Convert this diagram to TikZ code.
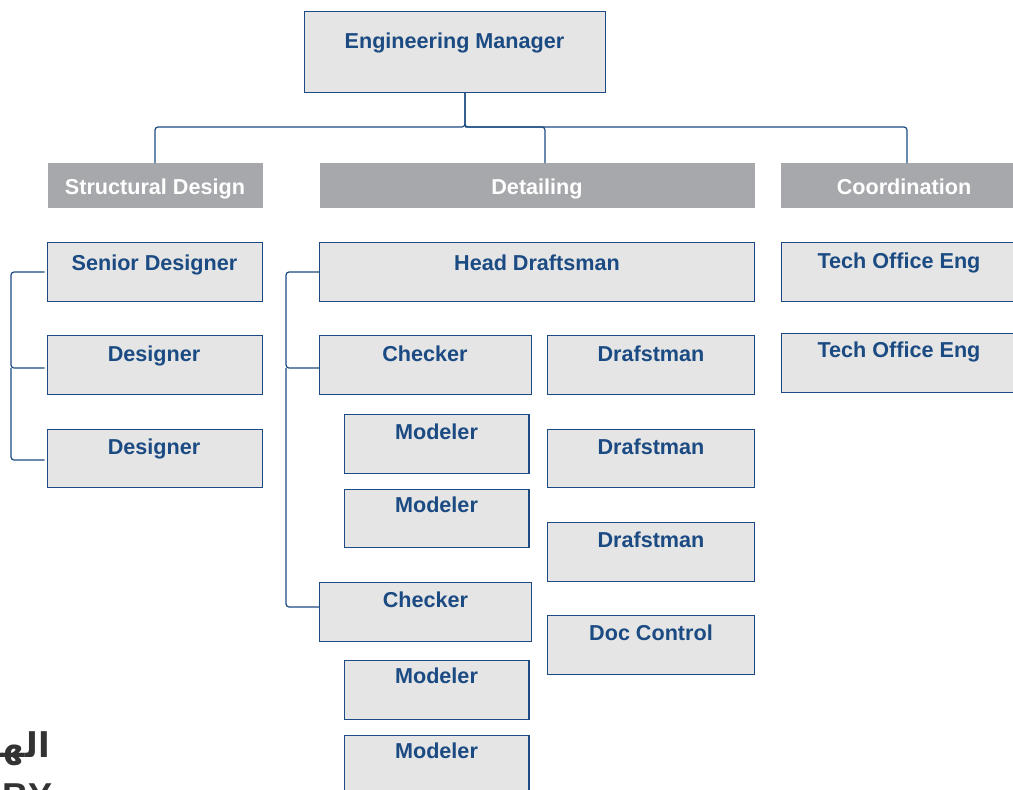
\documentclass[tikz,border=0pt]{standalone}
\usepackage{fontspec}
\setmainfont{Liberation Sans}
\newfontfamily\arabicfont[Script=Arabic,BoldFont={DejaVu Sans Bold}]{DejaVu Sans}
\TeXXeTstate=1
\definecolor{navy}{HTML}{1B4B82}
\definecolor{boxfill}{HTML}{E5E5E5}
\definecolor{headgrey}{HTML}{A7A8AB}
\definecolor{inkdark}{HTML}{333333}
\tikzset{
  box/.style={draw=navy,fill=boxfill,line width=1.2pt,inner sep=0pt},
  head/.style={fill=headgrey,inner sep=0pt},
  boxtext/.style={text=navy,font=\fontsize{21.6}{24}\selectfont\bfseries,anchor=base,inner sep=0pt},
  headtext/.style={text=white,font=\fontsize{21.6}{24}\selectfont\bfseries,anchor=base,inner sep=0pt},
  link/.style={draw=navy,line width=1.2pt,rounded corners=3pt}
}
% name, x1, y1, x2, y2, text x, text baseline y, text
\newcommand{\orgbox}[8]{%
  \node[box,anchor=north west,minimum width=#4pt-#2pt-0.6pt,minimum height=#5pt-#3pt-0.6pt] (#1) at (#2,#3) {};
  \node[boxtext] (#1t) at (#6,#7) {#8};}
\newcommand{\orghead}[8]{%
  \node[head,anchor=north west,minimum width=#4pt-#2pt,minimum height=#5pt-#3pt] (#1) at (#2,#3) {};
  \node[headtext] (#1t) at (#6,#7) {#8};}
\begin{document}
\begin{tikzpicture}[x=1pt,y=-1pt]
\path[use as bounding box,clip] (0,0) rectangle (1013,790);
\fill[white] (0,0) rectangle (1013,790);

\orgbox{mgr}{303.5}{10.5}{605.5}{92.5}{454.5}{48}{Engineering Manager}

\orghead{sd}{48}{163}{263}{208}{155}{194}{Structural Design}
\orghead{det}{320}{163}{755}{208}{537}{194}{Detailing}
\orghead{coo}{781}{163}{1040}{208}{904}{194}{Coordination}

\orgbox{sen}{47}{241.5}{262.5}{301.5}{154.5}{270}{Senior Designer}
\orgbox{des1}{47}{334.5}{262.5}{394.5}{154}{361}{Designer}
\orgbox{des2}{47}{428.5}{262.5}{487.5}{154}{454}{Designer}

\orgbox{hd}{319}{241.5}{754.5}{301.5}{537}{270}{Head Draftsman}
\orgbox{chk1}{319}{334.5}{531.5}{394.5}{425}{361}{Checker}
\orgbox{mod1}{344}{413.5}{529}{473.5}{436.5}{439}{Modeler}
\orgbox{mod2}{344}{488.5}{529}{547.5}{436.5}{512}{Modeler}
\orgbox{chk2}{319}{581.5}{531.5}{641.5}{425.5}{607}{Checker}
\orgbox{mod3}{344}{659.5}{529}{719.5}{436.5}{683}{Modeler}
\orgbox{mod4}{344}{734.5}{529}{810}{436.5}{758}{Modeler}

\orgbox{dr1}{547}{334.5}{754.5}{394.5}{651}{361}{Drafstman}
\orgbox{dr2}{547}{428.5}{754.5}{487.5}{651}{454}{Drafstman}
\orgbox{dr3}{547}{521.5}{754.5}{581.5}{651}{547}{Drafstman}
\orgbox{doc}{547}{614.5}{754.5}{674.5}{651}{640}{Doc Control}

\orgbox{te1}{780.5}{241.5}{1040}{301.5}{899}{268}{Tech Office Eng}
\orgbox{te2}{780.5}{332.5}{1040}{392.5}{899}{357}{Tech Office Eng}

% top connectors
\coordinate (bus) at (465,127);
\draw[link] (mgr.south -| bus) -- (bus) -- (bus -| 155,0) -- (155,0 |- sd.north);
\draw[link] (mgr.south -| bus) -- (bus) -- (bus -| 545,0) -- (545,0 |- det.north);
\draw[link] (bus) -- (bus -| 907,0) -- (907,0 |- coo.north);

% left bracket, designers
\coordinate (sdtrunk) at (11,0);
\coordinate (sena) at (44.5,272);
\coordinate (desa) at (44.5,368);
\coordinate (desb) at (44.5,460);
\draw[link] (sena) -- (sena -| sdtrunk) -- (desa -| sdtrunk) -- (desa);
\draw[link] (desa -| sdtrunk) -- (desb -| sdtrunk) -- (desb);

% left bracket, detailing
\coordinate (dettrunk) at (286,0);
\coordinate (hda) at (319,272);
\coordinate (chka) at (319,368);
\coordinate (chkb) at (319,607);
\draw[link] (hda) -- (hda -| dettrunk) -- (chka -| dettrunk) -- (chka);
\draw[link] (chka -| dettrunk) -- (chkb -| dettrunk) -- (chkb);

% cropped texts
\node[anchor=base east,inner sep=0pt,text=inkdark,font=\arabicfont\fontsize{34}{36}\selectfont\bfseries] (ar) at (50,757) {\beginR الهـ\endR};
\node[anchor=base east,inner sep=0pt,text=inkdark,font=\fontsize{36}{38}\selectfont\bfseries] (by) at (53,808) {BY};
\end{tikzpicture}
\end{document}
